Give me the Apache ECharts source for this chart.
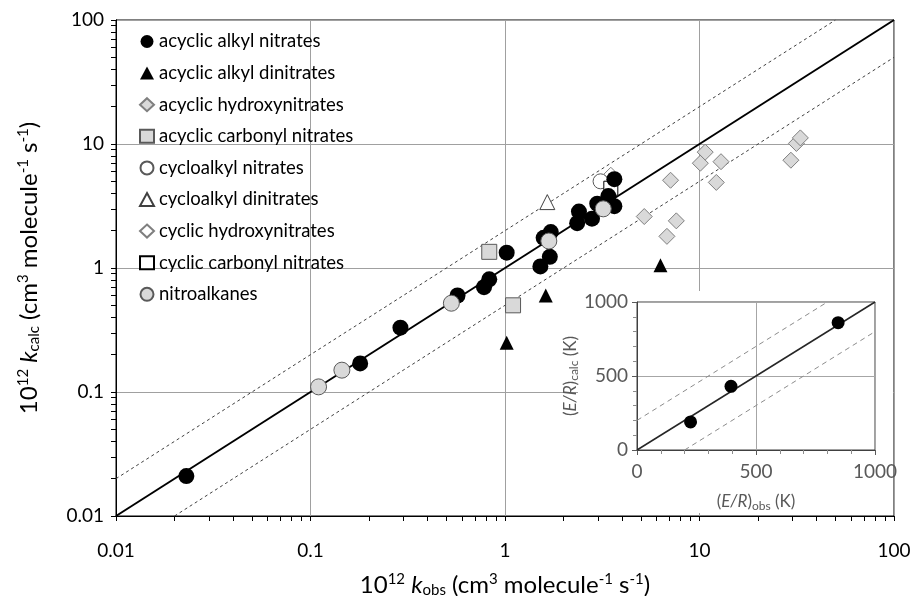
<!DOCTYPE html>
<html><head><meta charset="utf-8">
<script src="https://cdn.jsdelivr.net/npm/echarts@6/dist/echarts.min.js"></script>
<style>html,body{margin:0;padding:0;background:#fff}#c{width:916px;height:596px}</style>
</head><body><div id="c"></div>
<script>
// ---- data (x = 10^12 k_obs, y = 10^12 k_calc) ----
const acyclicAlkylNitrates = [[0.023,0.021],[0.18,0.17],[0.29,0.33],[0.57,0.60],[0.78,0.70],[0.83,0.81],[1.02,1.33],[1.52,1.03],[1.70,1.23],[1.58,1.75],[1.72,1.95],[2.4,2.85],[2.35,2.3],[2.8,2.5],[2.98,3.3],[3.4,3.8],[3.65,3.15],[3.65,5.2]];
const acyclicAlkylDinitrates = [[1.02,0.25],[1.62,0.6],[6.3,1.05]];
const acyclicHydroxynitrates = [[5.2,2.6],[6.8,1.8],[7.6,2.4],[7.1,5.1],[10.1,7.0],[10.7,8.6],[12.9,7.2],[12.2,4.9],[29.5,7.4],[31.5,10.1],[33,11.2]];
const acyclicCarbonylNitrates = [[0.83,1.35],[1.1,0.5]];
const cycloalkylNitrates = [[3.1,5.0]];
const cycloalkylDinitrates = [[1.65,3.4]];
const cyclicHydroxynitrates = [[3.5,5.7]];
const cyclicCarbonylNitrates = [[3.5,4.4]];
const nitroalkanes = [[0.11,0.11],[0.145,0.15],[0.53,0.52],[1.68,1.65],[3.2,3.0]];
const lineOneToOne = [[0.01,0.01],[100,100]];
const lineTwoX = [[0.01,0.02],[50,100]];
const lineHalfX = [[0.02,0.01],[100,50]];
// inset: E/R (K)
const insetPoints = [[225,190],[395,430],[845,860]];
const insetOneToOne = [[0,0],[1000,1000]];
const insetPlus = [[0,200],[800,1000]];
const insetMinus = [[200,0],[1000,800]];
const majorTicks = [0.01,0.1,1,10,100];
const legendNames = ['acyclic alkyl nitrates','acyclic alkyl dinitrates','acyclic hydroxynitrates','acyclic carbonyl nitrates','cycloalkyl nitrates','cycloalkyl dinitrates','cyclic hydroxynitrates','cyclic carbonyl nitrates','nitroalkanes'];

const logTicks = [];
for (let d = 0; d < majorTicks.length; d++) {
  logTicks.push(majorTicks[d]);
  if (d < majorTicks.length - 1) for (let k = 2; k <= 9; k++) logTicks.push(+(majorTicks[d]*k).toPrecision(3));
}

const FONT = 'Lato';
const richT = {
  sup: {fontSize: 15, padding: [0,0,11,0], fontFamily: FONT, color: '#000'},
  sub: {fontSize: 15, padding: [10,0,0,0], fontFamily: FONT, color: '#000'},
  i: {fontStyle: 'italic', fontFamily: FONT, fontSize: 24, color: '#000'}
};
const richIn = {
  sub: {fontSize: 12, padding: [8,0,0,0], fontFamily: FONT, color: '#595959'},
  i: {fontStyle: 'italic', fontFamily: FONT, fontSize: 17, color: '#595959'}
};
const gray = '#d9d9d9', grayB = '#7f7f7f';
const sc = (name, data, symbol, size, style, z) => ({
  name, type: 'scatter', data, symbol, symbolSize: size, itemStyle: Object.assign({opacity: 1}, style),
  xAxisIndex: 0, yAxisIndex: 0, z: z, emphasis: {disabled: true}
});
const ln = (data, style, xi, z) => ({
  type: 'line', data, showSymbol: false, symbol: 'none', silent: true,
  lineStyle: style, xAxisIndex: xi, yAxisIndex: xi, z: z
});
const noComma = v => String(v);

const chart = echarts.init(document.getElementById('c'));
chart.setOption({
  animation: false,
  backgroundColor: '#fff',
  textStyle: {fontFamily: FONT},
  grid: [
    {left: 116, right: 22, top: 20, bottom: 80, show: true, borderColor: '#000', borderWidth: 1, backgroundColor: 'transparent', containLabel: false, outerBoundsMode: 'none'},
    {left: 637, top: 302, width: 238, height: 148, show: true, borderColor: '#404040', borderWidth: 1, backgroundColor: '#fff', z: 60, containLabel: false, outerBoundsMode: 'none'}
  ],
  graphic: [{type: 'rect', shape: {x: 578, y: 291, width: 315, height: 222}, style: {fill: '#fff'}, z: 50, silent: true}],
  legend: {
    data: legendNames, orient: 'vertical', left: 134, top: 27, itemWidth: 14, itemHeight: 13, itemGap: 12.6,
    selectedMode: false, textStyle: {fontSize: 18.5, lineHeight: 19, color: '#000', fontFamily: FONT}
  },
  xAxis: [
    {type: 'log', gridIndex: 0, min: 0.01, max: 100, logBase: 10,
     name: '10{sup|12} {i|k}{sub|obs} (cm{sup|3} molecule{sup|-1} s{sup|-1})', nameLocation: 'middle', nameGap: 56,
     nameTextStyle: {fontSize: 24, color: '#000', fontFamily: FONT, rich: richT},
     axisLine: {lineStyle: {color: '#000'}},
     axisTick: {show: false},
     axisLabel: {fontSize: 19, color: '#000', margin: 25, formatter: v => String(+(+v).toPrecision(2))},
     splitLine: {show: true, lineStyle: {color: '#a0a0a0'}}},
    {type: 'value', gridIndex: 1, min: 0, max: 1000, interval: 500, z: 61,
     name: '({i|E/R}){sub|obs} (K)', nameLocation: 'middle', nameGap: 42,
     nameTextStyle: {fontSize: 17, color: '#595959', fontFamily: FONT, rich: richIn},
     axisLine: {lineStyle: {color: '#404040'}},
     axisTick: {show: true, length: 5, lineStyle: {color: '#595959'}},
     minorTick: {show: true, splitNumber: 5, length: 4, lineStyle: {color: '#8c8c8c'}},
     axisLabel: {fontSize: 19, color: '#595959', margin: 12, formatter: noComma},
     splitLine: {show: true, lineStyle: {color: '#a6a6a6'}}},
    {type: 'log', gridIndex: 0, min: 0.01, max: 100, logBase: 10, position: 'bottom',
     axisLine: {show: true, lineStyle: {color: '#000'}}, axisLabel: {show: false}, splitLine: {show: false},
     axisTick: {show: true, customValues: logTicks, length: 5, lineStyle: {color: '#000'}}}
  ],
  yAxis: [
    {type: 'log', gridIndex: 0, min: 0.01, max: 100, logBase: 10,
     name: '10{sup|12} {i|k}{sub|calc} (cm{sup|3} molecule{sup|-1} s{sup|-1})', nameLocation: 'middle', nameGap: 74, nameRotate: 90,
     nameTextStyle: {fontSize: 24, color: '#000', fontFamily: FONT, rich: richT},
     axisLine: {lineStyle: {color: '#000'}},
     axisTick: {show: false},
     axisLabel: {fontSize: 19, color: '#000', margin: 12, formatter: v => String(+(+v).toPrecision(2))},
     splitLine: {show: true, lineStyle: {color: '#a0a0a0'}}},
    {type: 'value', gridIndex: 1, min: 0, max: 1000, interval: 500, z: 61,
     name: '({i|E/R}){sub|calc} (K)', nameLocation: 'middle', nameGap: 30, nameRotate: 90,
     nameTextStyle: {fontSize: 17, color: '#595959', fontFamily: FONT, rich: richIn},
     axisLine: {lineStyle: {color: '#404040'}},
     axisTick: {show: true, length: 5, lineStyle: {color: '#595959'}},
     minorTick: {show: true, splitNumber: 5, length: 4, lineStyle: {color: '#8c8c8c'}},
     axisLabel: {fontSize: 19, color: '#595959', margin: 9, formatter: noComma},
     splitLine: {show: true, lineStyle: {color: '#a6a6a6'}}},
    {type: 'log', gridIndex: 0, min: 0.01, max: 100, logBase: 10, position: 'left',
     axisLine: {show: true, lineStyle: {color: '#000'}}, axisLabel: {show: false}, splitLine: {show: false},
     axisTick: {show: true, customValues: logTicks, length: 5, lineStyle: {color: '#000'}}}
  ],
  series: [
    ln(lineOneToOne, {color: '#000', width: 2}, 0, 2),
    ln(lineTwoX, {color: '#404040', width: 1, type: [3,3]}, 0, 2),
    ln(lineHalfX, {color: '#404040', width: 1, type: [3,3]}, 0, 2),
    sc('cyclic hydroxynitrates', cyclicHydroxynitrates, 'diamond', 14, {color: '#fff', borderColor: '#7f7f7f', borderWidth: 1}, 3),
    sc('cycloalkyl nitrates', cycloalkylNitrates, 'circle', 15, {color: '#fff', borderColor: '#595959', borderWidth: 1}, 3),
    sc('cyclic carbonyl nitrates', cyclicCarbonylNitrates, 'rect', 14, {color: '#fff', borderColor: '#000', borderWidth: 1}, 3),
    sc('cycloalkyl dinitrates', cycloalkylDinitrates, 'triangle', 15, {color: '#fff', borderColor: '#404040', borderWidth: 1}, 3),
    sc('acyclic hydroxynitrates', acyclicHydroxynitrates, 'diamond', 16, {color: gray, borderColor: grayB, borderWidth: 1}, 3),
    sc('acyclic carbonyl nitrates', acyclicCarbonylNitrates, 'rect', 15, {color: gray, borderColor: '#595959', borderWidth: 1}, 3),
    sc('acyclic alkyl dinitrates', acyclicAlkylDinitrates, 'triangle', 14, {color: '#000'}, 3),
    sc('acyclic alkyl nitrates', acyclicAlkylNitrates, 'circle', 16, {color: '#000'}, 3),
    sc('nitroalkanes', nitroalkanes, 'circle', 16, {color: gray, borderColor: '#595959', borderWidth: 1}, 3),
    ln(insetOneToOne, {color: '#262626', width: 1.5}, 1, 62),
    ln(insetPlus, {color: '#8c8c8c', width: 1, type: [5,4]}, 1, 62),
    ln(insetMinus, {color: '#8c8c8c', width: 1, type: [5,4]}, 1, 62),
    {type: 'scatter', data: insetPoints, symbol: 'circle', symbolSize: 13, itemStyle: {color: '#000', opacity: 1}, xAxisIndex: 1, yAxisIndex: 1, z: 63, silent: true}
  ]
});
</script></body></html>
